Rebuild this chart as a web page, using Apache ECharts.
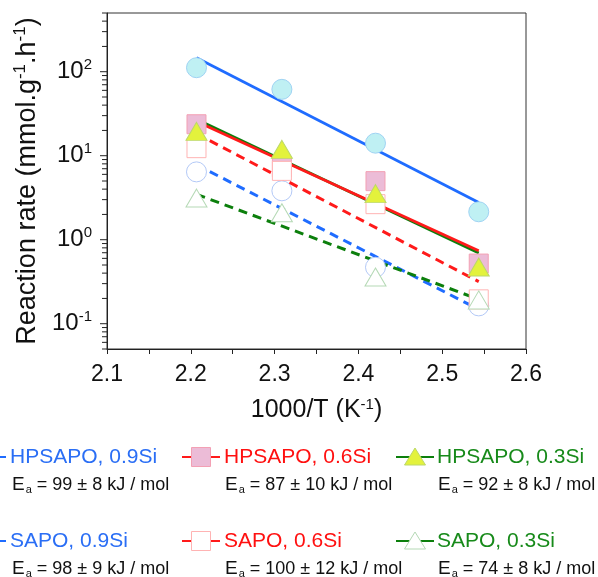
<!DOCTYPE html>
<html><head><meta charset="utf-8">
<script src="https://cdn.jsdelivr.net/npm/echarts@6/dist/echarts.min.js"></script>
<style>html,body{margin:0;padding:0;background:#fff}#c{width:598px;height:577px}</style>
</head><body><div id="c"></div>
<script>
// 1000/T (K^-1) of the four reaction temperatures
const invT = [2.2068, 2.3087, 2.4204, 2.5436];
const seriesNames = ['HPSAPO, 0.9Si', 'HPSAPO, 0.6Si', 'HPSAPO, 0.3Si', 'SAPO, 0.9Si', 'SAPO, 0.6Si', 'SAPO, 0.3Si'];
// measured reaction rates (mmol.g-1.h-1)
const ratesHP09 = [111.6, 61.7, 14.1, 2.15];
const ratesHP06 = [23.7, 7.3, 4.98, 0.52];
const ratesHP03 = [19.5, 11.9, 3.54, 0.474];
const ratesS09 = [6.42, 3.82, 0.470, 0.163];
const ratesS06 = [12.3, 6.6, 2.65, 0.195];
const ratesS03 = [3.13, 2.09, 0.36, 0.192];
// Arrhenius fit lines: values at the first and last 1000/T
const fitX = [2.2068, 2.5436];
const fitHP09 = [146.6, 2.78];
const fitHP06 = [25.6, 0.74];
const fitHP03 = [27.1, 0.695];
const fitS09 = [7.8, 0.148];
const fitS06 = [18.3, 0.317];
const fitS03 = [3.47, 0.195];
const activationEnergies = ['99 ± 8', '87 ± 10', '92 ± 8', '98 ± 9', '100 ± 12', '74 ± 8'];
const xTicks = [2.1, 2.2, 2.3, 2.4, 2.5, 2.6];
const yTickExponents = [-1, 0, 1, 2];

const FONT = '"Liberation Sans", Arial, Helvetica, sans-serif';
const BLUE = '#1f6cff', RED = '#ff1a1a', GREEN = '#0c7f0c';
const TXT_BLUE = '#2a6ef5', TXT_RED = '#ff1010', TXT_GREEN = '#178a1a';

const styles = [
  { sym: 'circle', size: 20, fill: '#bff0f3', border: '#9fd3f3', line: BLUE, dash: 'solid', txt: TXT_BLUE },
  { sym: 'rect', size: 19, fill: '#ecbcd7', border: '#f3a0b4', line: RED, dash: 'solid', txt: TXT_RED },
  { sym: 'triangle', size: [21, 18], fill: '#e3f23c', border: '#bcd86a', line: GREEN, dash: 'solid', txt: TXT_GREEN },
  { sym: 'circle', size: 20, fill: '#ffffff', border: '#b3c9f7', line: BLUE, dash: [9, 6], txt: TXT_BLUE },
  { sym: 'rect', size: 19, fill: '#ffffff', border: '#ffb3b3', line: RED, dash: [9, 6], txt: TXT_RED },
  { sym: 'triangle', size: [21, 18], fill: '#ffffff', border: '#b5d9b5', line: GREEN, dash: [9, 6], txt: TXT_GREEN }
];
const rates = [ratesHP09, ratesHP06, ratesHP03, ratesS09, ratesS06, ratesS03];
const fits = [fitHP09, fitHP06, fitHP03, fitS09, fitS06, fitS03];
const drawOrder = [0, 1, 3, 4, 2, 5];
const lineOrder = [0, 2, 1, 3, 5, 4];

const series = [];
lineOrder.forEach((i) => {
  const f = fits[i];
  series.push({
    type: 'line', name: seriesNames[i] + ' fit', silent: true, animation: false,
    symbol: 'none', showSymbol: false, z: 2,
    data: fitX.map((x, j) => [x, f[j]]),
    lineStyle: { color: styles[i].line, width: styles[i].dash === 'solid' ? 2.8 : 3, type: styles[i].dash, cap: 'butt' }
  });
});
drawOrder.forEach((i, k) => {
  series.push({
    type: 'scatter', name: seriesNames[i], animation: false, z: 3 + k,
    symbol: styles[i].sym, symbolSize: styles[i].size,
    data: invT.map((x, j) => [x, rates[i][j]]),
    itemStyle: { color: styles[i].fill, borderColor: styles[i].border, borderWidth: 1, opacity: 1 }
  });
});

const chart = echarts.init(document.getElementById('c'), null, { renderer: 'canvas' });
chart.setOption({
  backgroundColor: '#ffffff',
  animation: false,
  grid: { left: 107, top: 13, right: 72, bottom: 228, show: true, borderColor: '#333', borderWidth: 1, backgroundColor: 'transparent' },
  xAxis: {
    type: 'value', min: xTicks[0], max: xTicks[xTicks.length - 1], interval: 0.1,
    name: '1000/T (K{s|-1})', nameLocation: 'middle', nameGap: 48,
    nameTextStyle: { fontSize: 25, fontFamily: FONT, color: '#111',
      rich: { s: { fontSize: 15, fontFamily: FONT, color: '#111', padding: [0, 0, 12, 0] } } },
    axisLine: { lineStyle: { color: '#222', width: 1 } },
    axisTick: { show: true, inside: false, length: 5, lineStyle: { color: '#222' } },
    minorTick: { show: true, splitNumber: 2, length: 5, lineStyle: { color: '#222' } },
    splitLine: { show: false },
    axisLabel: { fontSize: 23, fontFamily: FONT, color: '#111', margin: 14, formatter: v => v.toFixed(1) }
  },
  yAxis: {
    type: 'log', logBase: 10, min: 0.05, max: 500,
    name: 'Reaction rate (mmol.g{s|-1}.h{s|-1})', nameLocation: 'middle', nameGap: 63, nameRotate: 90,
    nameTextStyle: { fontSize: 27, fontFamily: FONT, color: '#111',
      rich: { s: { fontSize: 17, fontFamily: FONT, color: '#111', padding: [0, 0, 14, 0] } } },
    axisLine: { lineStyle: { color: '#222', width: 1 } },
    axisTick: { show: false },
    splitLine: { show: false },
    axisLabel: {
      margin: 15, color: '#111',
      formatter: v => {
        const e = Math.log10(v), r = Math.round(e);
        if (Math.abs(e - r) > 1e-6 || yTickExponents.indexOf(r) < 0) return '';
        return '{b|10}{s|' + r + '}';
      },
      rich: {
        b: { fontSize: 24, fontFamily: FONT, color: '#111' },
        s: { fontSize: 15, fontFamily: FONT, color: '#111', padding: [0, 0, 13, 0] }
      }
    }
  },
  series: series
});

// log minor/major ticks on the y axis, positioned through the axis scale
const graphics = [];
const x0 = chart.convertToPixel({ xAxisIndex: 0 }, xTicks[0]);
for (let k = -2; k <= 2; k++) {
  for (let m = 1; m <= 9; m++) {
    const v = m * Math.pow(10, k);
    if (v < 0.05 - 1e-9 || v > 500 + 1e-9) continue;
    const py = chart.convertToPixel({ yAxisIndex: 0 }, v);
    const len = m === 1 ? 7 : 5;
    graphics.push({ type: 'line', silent: true, shape: { x1: x0 - len, y1: py, x2: x0, y2: py },
      style: { stroke: '#222', lineWidth: 1 } });
  }
}

// legend
const legendCols = [{ line: -32, text: 10, ea: 12 }, { line: 182, text: 224, ea: 225 }, { line: 396, text: 437, ea: 438 }];
const legendRows = [{ name: 457, ea: 485 }, { name: 541, ea: 569 }];
seriesNames.forEach((nm, i) => {
  const col = legendCols[i % 3], row = legendRows[Math.floor(i / 3)];
  const st = styles[i];
  const lx1 = col.line, lx2 = col.line + 38, cx = (lx1 + lx2) / 2, cy = row.name;
  graphics.push({ type: 'line', silent: true, z: 10, shape: { x1: lx1, y1: cy, x2: lx2, y2: cy },
    style: { stroke: st.line, lineWidth: 2.2 } });
  let shape;
  if (st.sym === 'circle') shape = { type: 'circle', shape: { cx: cx, cy: cy, r: 10 } };
  else if (st.sym === 'rect') shape = { type: 'rect', shape: { x: cx - 9.5, y: cy - 9.5, width: 19, height: 19 } };
  else shape = { type: 'polygon', shape: { points: [[cx, cy - 9], [cx + 10.5, cy + 8], [cx - 10.5, cy + 8]] } };
  shape.silent = true; shape.z = 11;
  shape.style = { fill: st.fill, stroke: st.border, lineWidth: 1 };
  graphics.push(shape);
  graphics.push({ type: 'text', silent: true, z: 12, x: col.text, y: cy,
    style: { text: nm, fill: st.txt, font: '21px ' + FONT, verticalAlign: 'middle', align: 'left' } });
  graphics.push({ type: 'text', silent: true, z: 12, x: col.ea, y: row.ea,
    style: { text: '{e|E}{a|a}{t| = ' + activationEnergies[i] + ' kJ / mol}', verticalAlign: 'middle', align: 'left',
      fill: '#111', font: '18px ' + FONT,
      rich: {
        e: { fontSize: 19, fontFamily: FONT, fill: '#111' },
        a: { fontSize: 11, fontFamily: FONT, fill: '#111', padding: [10, 0, 0, 1] },
        t: { fontSize: 18, fontFamily: FONT, fill: '#111' }
      } } });
});
chart.setOption({ graphic: graphics });
</script>
</body></html>
